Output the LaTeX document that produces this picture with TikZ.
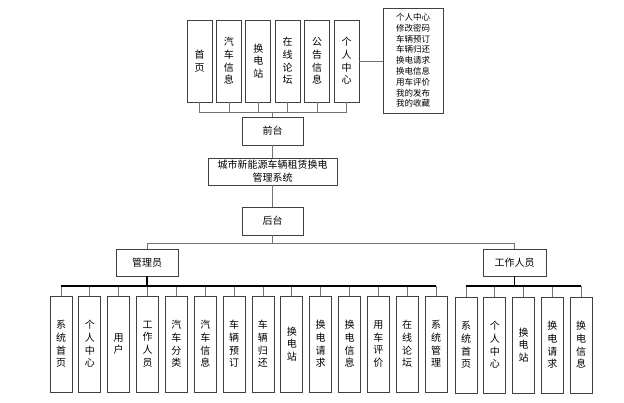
\documentclass[tikz,border=0pt]{standalone}
\usepackage{fontspec}
\setmainfont{Noto Sans CJK SC}
\usetikzlibrary{positioning}

\begin{document}
\begin{tikzpicture}[x=1pt, y=-1pt,
    box/.style={draw=black!75, line width=0.8pt, inner sep=0pt, align=center, font=\fontsize{10}{12.7}\selectfont},
    topbox/.style={box, minimum width=25pt, minimum height=82pt},
    leafbox/.style={box, minimum width=22pt, minimum height=96pt},
    hbox/.style={box, minimum width=61pt, minimum height=28pt},
    link/.style={draw=black!55, line width=0.8pt},
    bus/.style={draw=black, line width=1.4pt}]
    \useasboundingbox (0,0) rectangle (624,403);

    % front-end modules
    \foreach \i/\txt in {1/{首\\页}, 2/{汽\\车\\信\\息}, 3/{换\\电\\站}, 4/{在\\线\\论\\坛}, 5/{公\\告\\信\\息}, 6/{个\\人\\中\\心}}
        \node[topbox] (t\i) at ({199.5+29.4*(\i-1)},61) {\txt};
    \node[box, minimum width=60pt, minimum height=105pt, font=\fontsize{8.5}{10.8}\selectfont] (info) at (413,60.5)
        {个人中心\\修改密码\\车辆预订\\车辆归还\\换电请求\\换电信息\\用车评价\\我的发布\\我的收藏};

    % main column
    \node[hbox] (front) at (272.5,131) {前台};
    \node[box, minimum width=129pt, minimum height=27pt, font=\fontsize{10}{13}\selectfont] (sys) at (272.5,171.5)
        {城市新能源车辆租赁换电\\管理系统};
    \node[hbox] (back) at (272.5,221) {后台};
    \node[box, minimum width=62pt, minimum height=27pt] (adm) at (147,262.5) {管理员};
    \node[box, minimum width=63pt, minimum height=27pt] (staff) at (514.5,262.5) {工作人员};

    % admin modules
    \foreach \i/\txt in {1/{系\\统\\首\\页}, 2/{个\\人\\中\\心}, 3/{用\\户}, 4/{工\\作\\人\\员}, 5/{汽\\车\\分\\类}, 6/{汽\\车\\信\\息}, 7/{车\\辆\\预\\订}, 8/{车\\辆\\归\\还}, 9/{换\\电\\站}, 10/{换\\电\\请\\求}, 11/{换\\电\\信\\息}, 12/{用\\车\\评\\价}, 13/{在\\线\\论\\坛}, 14/{系\\统\\管\\理}}
        \node[leafbox] (a\i) at ({61+28.85*(\i-1)},344) {\txt};
    % staff modules
    \foreach \i/\txt in {1/{系\\统\\首\\页}, 2/{个\\人\\中\\心}, 3/{换\\电\\站}, 4/{换\\电\\请\\求}, 5/{换\\电\\信\\息}}
        \node[leafbox] (s\i) at ({466+28.75*(\i-1)},345) {\txt};

    % connectors
    \coordinate (topbus) at (272.5,112);
    \foreach \i in {1,...,6}
        \draw[link] (t\i.south) |- (topbus);
    \draw[link] (topbus) -- (front.north);
    \draw[link] (t6.east) -- (t6.east -| info.west);
    \draw[link] (front) -- (sys);
    \draw[link] (sys) -- (back);
    \coordinate (split) at (272.5,243);
    \draw[link] (back.south) -- (split);
    \draw[link] (split) -| (adm.north);
    \draw[link] (split) -| (staff.north);

    \coordinate (admbus) at (147,286);
    \foreach \i in {1,...,14}
        \draw[link] (admbus) -| (a\i.north);
    \draw[bus] (adm.south) -- (admbus);
    \draw[bus] (admbus -| a1.north) -- (admbus -| a14.north);

    \coordinate (staffbus) at (514.5,286);
    \foreach \i in {1,...,5}
        \draw[link] (staffbus) -| (s\i.north);
    \draw[bus] (staff.south) -- (staffbus);
    \draw[bus] (staffbus -| s1.north) -- (staffbus -| s5.north);
\end{tikzpicture}
\end{document}
